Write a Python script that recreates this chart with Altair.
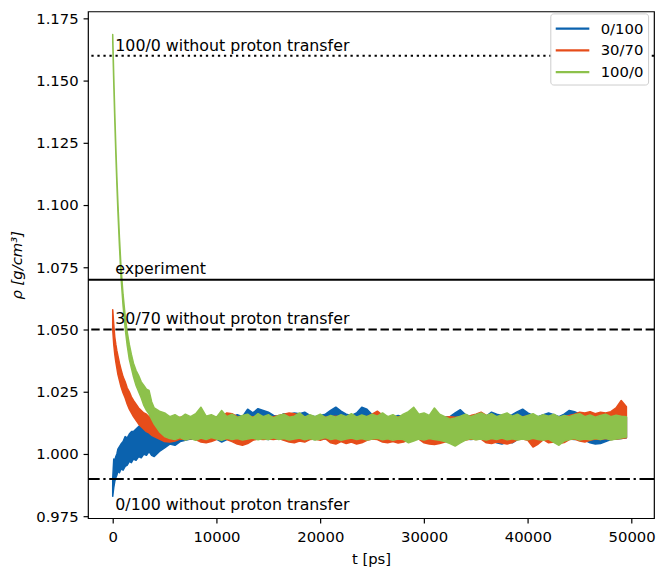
import altair as alt
import pandas as pd

# ---------------- data ----------------
SERIES = ["0/100", "30/70", "100/0"]
COLORS = ["#0b62ae", "#e64d1a", "#8dc14b"]

T = [0, 100, 200, 300, 400, 500, 650, 800, 1000, 1200, 1400, 1600, 1800, 2000,
     2250, 2500, 2750, 3000, 3250, 3500, 3750, 4000, 4500,
     5000, 5500, 6000, 6500, 7000, 7500, 8000, 8500, 9000, 9500,
     10000, 10500, 11000, 11500, 12000, 12500, 13000, 13500, 14000, 14500,
     15000, 15500, 16000, 16500, 17000, 17500, 18000, 18500, 19000, 19500,
     20000, 20500, 21000, 21500, 22000, 22500, 23000, 23500, 24000, 24500,
     25000, 25500, 26000, 26500, 27000, 27500, 28000, 28500, 29000, 29500,
     30000, 30500, 31000, 31500, 32000, 32500, 33000, 33500, 34000, 34500,
     35000, 35500, 36000, 36500, 37000, 37500, 38000, 38500, 39000, 39500,
     40000, 40500, 41000, 41500, 42000, 42500, 43000, 43500, 44000, 44500,
     45000, 45500, 46000, 46500, 47000, 47500, 48000, 48500, 49000, 49500]

# 0/100 (blue): lower / upper edge of the noisy trace
blue_lo = [0.9830, 0.9865, 0.9890, 0.9905, 0.9915, 0.9930, 0.9925, 0.9940, 0.9935, 0.9950, 0.9955, 0.9970,
           0.9965, 0.9980, 0.9975, 0.9990, 0.9985, 1.0000, 0.9995, 1.0010, 0.9995, 0.9990, 1.0010,
           1.0025, 1.0040, 1.0035, 1.0050, 1.0055, 1.0060, 1.0058, 1.0060, 1.0062, 1.0058,
           1.0060, 1.0048, 1.0058, 1.0062, 1.0060, 1.0062, 1.0060, 1.0058, 1.0062, 1.0060,
           1.0058, 1.0062, 1.0060, 1.0058, 1.0062, 1.0058, 1.0060, 1.0062, 1.0060, 1.0058,
           1.0062, 1.0060, 1.0062, 1.0065, 1.0062, 1.0060, 1.0062, 1.0060, 1.0058, 1.0060,
           1.0062, 1.0060, 1.0058, 1.0060, 1.0062, 1.0058, 1.0050, 1.0058, 1.0060, 1.0062,
           1.0058, 1.0060, 1.0062, 1.0058, 1.0060, 1.0058, 1.0060, 1.0062, 1.0060, 1.0058,
           1.0060, 1.0062, 1.0060, 1.0055, 1.0045, 1.0040, 1.0048, 1.0045, 1.0058, 1.0060,
           1.0062, 1.0058, 1.0060, 1.0062, 1.0058, 1.0060, 1.0062, 1.0058, 1.0060, 1.0058,
           1.0060, 1.0055, 1.0045, 1.0040, 1.0042, 1.0050, 1.0058, 1.0060, 1.0062, 1.0065]
blue_hi = [0.9900, 0.9980, 0.9975, 0.9990, 1.0000, 1.0020, 1.0030, 1.0040, 1.0050, 1.0070, 1.0065, 1.0080,
           1.0090, 1.0090, 1.0100, 1.0110, 1.0120, 1.0110, 1.0115, 1.0120, 1.0110, 1.0120, 1.0125,
           1.0125, 1.0135, 1.0140, 1.0138, 1.0145, 1.0140, 1.0150, 1.0145, 1.0150, 1.0145,
           1.0150, 1.0148, 1.0152, 1.0150, 1.0158, 1.0150, 1.0180, 1.0165, 1.0182, 1.0175,
           1.0168, 1.0155, 1.0150, 1.0162, 1.0160, 1.0165, 1.0162, 1.0168, 1.0155, 1.0150,
           1.0155, 1.0160, 1.0175, 1.0188, 1.0172, 1.0160, 1.0155, 1.0165, 1.0188, 1.0180,
           1.0158, 1.0150, 1.0155, 1.0150, 1.0148, 1.0155, 1.0150, 1.0148, 1.0152, 1.0150,
           1.0148, 1.0150, 1.0155, 1.0150, 1.0148, 1.0150, 1.0165, 1.0178, 1.0158, 1.0150,
           1.0155, 1.0150, 1.0152, 1.0168, 1.0160, 1.0155, 1.0150, 1.0158, 1.0170, 1.0180,
           1.0165, 1.0155, 1.0150, 1.0158, 1.0165, 1.0158, 1.0150, 1.0160, 1.0175, 1.0170,
           1.0160, 1.0152, 1.0150, 1.0155, 1.0150, 1.0148, 1.0150, 1.0145, 1.0150, 1.0148]

# 30/70 (orange)
orange_lo = [1.0500, 1.0440, 1.0400, 1.0370, 1.0345, 1.0320, 1.0295, 1.0270, 1.0245, 1.0225, 1.0200, 1.0180,
             1.0165, 1.0150, 1.0135, 1.0120, 1.0110, 1.0100, 1.0090, 1.0085, 1.0075, 1.0070, 1.0060,
             1.0050, 1.0048, 1.0052, 1.0060, 1.0058, 1.0062, 1.0058, 1.0048, 1.0045, 1.0050,
             1.0058, 1.0062, 1.0058, 1.0050, 1.0040, 1.0035, 1.0042, 1.0055, 1.0060, 1.0058,
             1.0060, 1.0058, 1.0062, 1.0055, 1.0048, 1.0045, 1.0052, 1.0048, 1.0058, 1.0060,
             1.0055, 1.0062, 1.0045, 1.0040, 1.0050, 1.0042, 1.0048, 1.0040, 1.0045, 1.0055,
             1.0060, 1.0058, 1.0048, 1.0045, 1.0050, 1.0044, 1.0048, 1.0055, 1.0058, 1.0060,
             1.0045, 1.0040, 1.0038, 1.0042, 1.0048, 1.0055, 1.0058, 1.0060, 1.0056, 1.0060,
             1.0058, 1.0060, 1.0045, 1.0042, 1.0048, 1.0044, 1.0040, 1.0046, 1.0058, 1.0060,
             1.0055, 1.0028, 1.0040, 1.0058, 1.0045, 1.0048, 1.0042, 1.0046, 1.0058, 1.0060,
             1.0052, 1.0048, 1.0055, 1.0060, 1.0058, 1.0062, 1.0058, 1.0060, 1.0062, 1.0065]
orange_hi = [1.0580, 1.0520, 1.0470, 1.0440, 1.0415, 1.0395, 1.0365, 1.0340, 1.0310, 1.0290, 1.0265, 1.0250,
             1.0230, 1.0215, 1.0200, 1.0185, 1.0175, 1.0165, 1.0160, 1.0150, 1.0148, 1.0145, 1.0140,
             1.0140, 1.0135, 1.0142, 1.0148, 1.0150, 1.0145, 1.0150, 1.0148, 1.0145, 1.0150,
             1.0148, 1.0150, 1.0165, 1.0162, 1.0150, 1.0148, 1.0145, 1.0150, 1.0148, 1.0150,
             1.0148, 1.0150, 1.0155, 1.0160, 1.0165, 1.0162, 1.0155, 1.0150, 1.0148, 1.0150,
             1.0150, 1.0148, 1.0150, 1.0152, 1.0148, 1.0150, 1.0145, 1.0150, 1.0148, 1.0150,
             1.0160, 1.0172, 1.0155, 1.0150, 1.0148, 1.0150, 1.0152, 1.0150, 1.0148, 1.0150,
             1.0148, 1.0150, 1.0152, 1.0150, 1.0148, 1.0150, 1.0148, 1.0150, 1.0152, 1.0155,
             1.0160, 1.0168, 1.0155, 1.0150, 1.0148, 1.0150, 1.0152, 1.0150, 1.0148, 1.0150,
             1.0152, 1.0150, 1.0148, 1.0155, 1.0150, 1.0152, 1.0148, 1.0150, 1.0155, 1.0160,
             1.0168, 1.0165, 1.0170, 1.0162, 1.0168, 1.0165, 1.0170, 1.0185, 1.0215, 1.0190]

# 100/0 (green)
green_lo = [1.1660, 1.1490, 1.1340, 1.1205, 1.1085, 1.0975, 1.0835, 1.0710, 1.0595, 1.0505, 1.0435, 1.0380,
            1.0345, 1.0310, 1.0275, 1.0250, 1.0225, 1.0195, 1.0175, 1.0160, 1.0140, 1.0120, 1.0090,
            1.0070, 1.0062, 1.0058, 1.0066, 1.0056, 1.0062, 1.0055, 1.0064, 1.0058, 1.0066,
            1.0060, 1.0055, 1.0063, 1.0058, 1.0062, 1.0056, 1.0060, 1.0064, 1.0057, 1.0062,
            1.0058, 1.0065, 1.0058, 1.0062, 1.0056, 1.0060, 1.0064, 1.0057, 1.0062, 1.0056,
            1.0060, 1.0066, 1.0058, 1.0062, 1.0055, 1.0060, 1.0064, 1.0058, 1.0062, 1.0056,
            1.0060, 1.0063, 1.0057, 1.0061, 1.0055, 1.0060, 1.0058, 1.0045, 1.0052, 1.0060,
            1.0056, 1.0062, 1.0058, 1.0055, 1.0050, 1.0042, 1.0032, 1.0045, 1.0056, 1.0062,
            1.0057, 1.0060, 1.0056, 1.0062, 1.0058, 1.0064, 1.0057, 1.0061, 1.0056, 1.0060,
            1.0057, 1.0063, 1.0058, 1.0055, 1.0060, 1.0047, 1.0035, 1.0052, 1.0058, 1.0062,
            1.0056, 1.0060, 1.0057, 1.0062, 1.0058, 1.0063, 1.0056, 1.0060, 1.0064, 1.0068]
green_hi = [1.1685, 1.1520, 1.1370, 1.1235, 1.1115, 1.1010, 1.0870, 1.0750, 1.0640, 1.0555, 1.0490, 1.0440,
            1.0400, 1.0365, 1.0335, 1.0315, 1.0290, 1.0275, 1.0260, 1.0255, 1.0210, 1.0185, 1.0172,
            1.0165, 1.0150, 1.0158, 1.0145, 1.0160, 1.0150, 1.0162, 1.0188, 1.0152, 1.0158,
            1.0148, 1.0175, 1.0150, 1.0160, 1.0147, 1.0155, 1.0160, 1.0145, 1.0162, 1.0150,
            1.0158, 1.0145, 1.0155, 1.0160, 1.0148, 1.0152, 1.0165, 1.0148, 1.0158, 1.0150,
            1.0160, 1.0146, 1.0155, 1.0148, 1.0158, 1.0150, 1.0162, 1.0148, 1.0157, 1.0150,
            1.0160, 1.0152, 1.0165, 1.0150, 1.0158, 1.0146, 1.0160, 1.0170, 1.0188, 1.0160,
            1.0165, 1.0155, 1.0185, 1.0160, 1.0150, 1.0140, 1.0145, 1.0152, 1.0160, 1.0150,
            1.0158, 1.0165, 1.0155, 1.0162, 1.0150, 1.0158, 1.0165, 1.0152, 1.0160, 1.0148,
            1.0155, 1.0162, 1.0150, 1.0158, 1.0152, 1.0160, 1.0148, 1.0155, 1.0150, 1.0158,
            1.0162, 1.0150, 1.0157, 1.0148, 1.0155, 1.0160, 1.0150, 1.0156, 1.0152, 1.0150]

# reference lines and their annotations
HLINE_VALUES = [1.16, 1.07, 1.05, 0.99]
HLINE_LABELS = ["100/0 without proton transfer", "experiment",
                "30/70 without proton transfer", "0/100 without proton transfer"]
LABEL_T = [250, 250, 250, 250]
LABEL_V = [1.1619, 1.0725, 1.0524, 0.9776]

X_TICKS = [0, 10000, 20000, 30000, 40000, 50000]
Y_TICKS = [0.975, 1.000, 1.025, 1.050, 1.075, 1.100, 1.125, 1.150, 1.175]

# ---------------- chart ----------------
FONT = "DejaVu Sans"
LOS = [blue_lo, orange_lo, green_lo]
HIS = [blue_hi, orange_hi, green_hi]

frames = []
for name, lo, hi in zip(SERIES, LOS, HIS):
    frames.append(pd.DataFrame({"t": T, "lo": lo, "hi": hi, "series": name}))
df = pd.concat(frames, ignore_index=True)

xscale = alt.Scale(domain=[-2380, 52160], nice=False, zero=False)
yscale = alt.Scale(domain=[0.97422, 1.17778], nice=False, zero=False)
cscale = alt.Scale(domain=SERIES, range=COLORS)

common_axis = dict(grid=False, domain=False, ticks=True, tickSize=5, tickWidth=1.2,
                   tickColor="black", labelFontSize=15, labelFont=FONT, labelColor="black",
                   labelFlush=False, titleFontSize=15, titleFont=FONT,
                   titleColor="black", titleFontWeight="normal")
xaxis = alt.Axis(title="t [ps]", values=X_TICKS, format="d", labelPadding=7, titlePadding=7,
                 **common_axis)
yaxis = alt.Axis(title="ρ [g/cm³]", values=Y_TICKS, format=".3f", labelPadding=5, titlePadding=11,
                 titleFontStyle="italic", **common_axis)


def X(field):
    return alt.X(field, type="quantitative", scale=xscale, axis=xaxis)


def Y(field):
    return alt.Y(field, type="quantitative", scale=yscale, axis=yaxis)


layers = []
for name, col in zip(SERIES, COLORS):
    layers.append(
        alt.Chart(df)
        .transform_filter(alt.datum.series == name)
        .mark_area(fill=col, stroke=col, strokeWidth=1.5, strokeJoin="round", opacity=1)
        .encode(x=X("t"), y=Y("lo"), y2=alt.Y2("hi"))
    )

legend = alt.Legend(orient="none", legendX=468, legendY=2, title=None,
                    symbolType="M-1.7,0H1.7", symbolSize=400, symbolStrokeWidth=2.3,
                    symbolOffset=7, labelOffset=17, padding=4, rowPadding=2,
                    labelFontSize=15, labelFont=FONT, labelColor="black",
                    strokeColor="#cccccc", fillColor="white", cornerRadius=3)
legend_layer = (
    alt.Chart(df)
    .transform_filter(alt.datum.t < -100000)
    .mark_line(strokeWidth=2.3)
    .encode(x=X("t"), y=Y("lo"), color=alt.Color("series:N", scale=cscale, legend=legend))
)

DASHES = [[2.3, 3.8], None, [8.5, 3.7], [14.7, 3.7, 2.3, 3.7]]
rules = []
for v, dash in zip(HLINE_VALUES, DASHES):
    kw = dict(color="black", strokeWidth=2.0)
    if dash is not None:
        kw["strokeDash"] = dash
    rules.append(alt.Chart(pd.DataFrame({"v": [v]})).mark_rule(**kw).encode(y=Y("v")))

texts = (
    alt.Chart(pd.DataFrame({"t": LABEL_T, "v": LABEL_V, "label": HLINE_LABELS}))
    .mark_text(align="left", baseline="alphabetic", fontSize=16, font=FONT, color="black")
    .encode(x=X("t"), y=Y("v"), text="label:N")
)

chart = (
    alt.layer(*layers, *rules, texts, legend_layer)
    .properties(width=573, height=513, autosize=alt.AutoSizeParams(type="none"),
                padding={"left": 81, "top": 0, "right": 2, "bottom": 51},
                background="white")
    .configure_view(stroke="black", strokeWidth=1.2)
)

chart.save("out.html", embed_options={"renderer": "svg", "actions": False})
